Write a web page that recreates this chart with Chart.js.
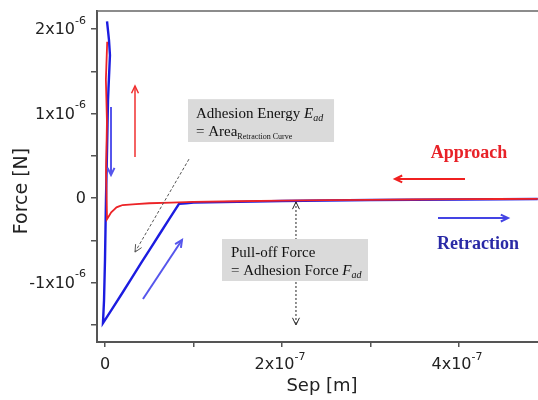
<!DOCTYPE html>
<html>
<head>
<meta charset="utf-8">
<script src="https://cdn.jsdelivr.net/npm/chart.js@4.4.0/dist/chart.umd.min.js"></script>
<style>
  html, body { margin: 0; padding: 0; background: #fff; overflow: hidden; }
  canvas { display: block; }
</style>
</head>
<body>
<canvas id="forceChart" width="538" height="400"></canvas>
<script>
// approach curve (red), drawn from far away to contact
const sepApproach = [4.89e-7, 4.0e-7, 3.0e-7, 2.0e-7, 1.0e-7, 5.0e-8, 2.0e-8, 1.3e-8, 7e-9, 2.3e-9, 1.2e-9, 2.2e-9, 1.0e-9, 2.0e-9, 2.5e-9];
const forceApproach = [-0.010e-6, -0.014e-6, -0.021e-6, -0.031e-6, -0.046e-6, -0.062e-6, -0.083e-6, -0.11e-6, -0.17e-6, -0.25e-6, 0.30e-6, 0.90e-6, 1.40e-6, 1.70e-6, 1.85e-6];

// retraction curve (blue), from max load down to pull-off and back to zero
const sepRetract = [2.3e-9, 4.5e-9, 5.6e-9, 4.5e-9, 3.4e-9, 2.3e-9, 1.1e-9, 0, -1.1e-9, -2.3e-9, 1.92e-8, 4.07e-8, 6.21e-8, 8.36e-8, 1.0e-7, 2.0e-7, 3.0e-7, 4.0e-7, 4.89e-7];
const forceRetract = [2.09e-6, 1.87e-6, 1.69e-6, 1.43e-6, 1.16e-6, 0.57e-6, -0.02e-6, -0.73e-6, -1.21e-6, -1.48e-6, -1.13e-6, -0.77e-6, -0.42e-6, -0.07e-6, -0.055e-6, -0.036e-6, -0.024e-6, -0.018e-6, -0.012e-6];

// axes
const xTickValues = [0, 1e-7, 2e-7, 3e-7, 4e-7];
const xLabelValues = [0, 2e-7, 4e-7];
const xTickLabels = [['0', ''], ['2x10', '-7'], ['4x10', '-7']];
const yTickValues = [-1.5e-6, -1e-6, -0.5e-6, 0, 0.5e-6, 1e-6, 1.5e-6, 2e-6];
const yLabelValues = [-1e-6, 0, 1e-6, 2e-6];
const yTickLabels = [['-1x10', '-6'], ['0', ''], ['1x10', '-6'], ['2x10', '-6']];

const RED = '#ec2327';
const BLUE = '#1c1ce0';
const AXIS = '#555';

// annotations, placed in data units
const arrows = [
  { from: [3.39e-8, 0.485e-6], to: [3.39e-8, 1.325e-6], color: '#f03030', width: 1.5, dash: [], heads: 'end' },
  { from: [6.8e-9, 1.077e-6], to: [6.8e-9, 0.272e-6], color: '#5656ec', width: 2, dash: [], heads: 'end' },
  { from: [9.49e-8, 0.46e-6], to: [3.39e-8, -0.64e-6], color: '#555', width: 1, dash: [3, 2], heads: 'end' },
  { from: [2.158e-7, -0.047e-6], to: [2.158e-7, -1.503e-6], color: '#222', width: 1, dash: [2, 2], heads: 'both' },
  { from: [4.068e-7, 0.225e-6], to: [3.277e-7, 0.225e-6], color: '#f02020', width: 2, dash: [], heads: 'end' },
  { from: [3.763e-7, -0.237e-6], to: [4.554e-7, -0.237e-6], color: '#4444e4', width: 2, dash: [], heads: 'end' },
  { from: [4.29e-8, -1.195e-6], to: [8.7e-8, -0.497e-6], color: '#5656ec', width: 2, dash: [], heads: 'end' }
];
const boxes = [
  { x1: 9.38e-8, y1: 1.17e-6, x2: 2.588e-7, y2: 0.663e-6 },
  { x1: 1.322e-7, y1: -0.485e-6, x2: 2.972e-7, y2: -0.982e-6 }
];

function arrowHead(ctx, x, y, angle, size) {
  ctx.beginPath();
  ctx.moveTo(x - size * Math.cos(angle - 0.45), y - size * Math.sin(angle - 0.45));
  ctx.lineTo(x, y);
  ctx.lineTo(x - size * Math.cos(angle + 0.45), y - size * Math.sin(angle + 0.45));
  ctx.stroke();
}

// draw a line of text made of runs: [text, font, dy]
function drawRuns(ctx, x, y, runs, color) {
  ctx.fillStyle = color;
  ctx.textAlign = 'left';
  ctx.textBaseline = 'alphabetic';
  runs.forEach(([text, font, dy]) => {
    ctx.font = font;
    ctx.fillText(text, x, y + (dy || 0));
    x += ctx.measureText(text).width;
  });
}

const decorations = {
  id: 'decorations',
  afterDraw(chart) {
    const ctx = chart.ctx;
    const xs = chart.scales.x, ys = chart.scales.y;
    const area = chart.chartArea;
    const P = (x, y) => [xs.getPixelForValue(x), ys.getPixelForValue(y)];
    ctx.save();

    // top frame line
    ctx.strokeStyle = '#666';
    ctx.lineWidth = 1.5;
    ctx.beginPath();
    ctx.moveTo(area.left, area.top);
    ctx.lineTo(area.right, area.top);
    ctx.stroke();

    // tick labels with superscript exponents
    ctx.fillStyle = '#222';
    ctx.textBaseline = 'middle';
    yLabelValues.forEach((v, i) => {
      const [main, exp] = yTickLabels[i];
      const ty = ys.getPixelForValue(v);
      const right = area.left - 11;
      ctx.font = '11px "DejaVu Sans"';
      const ew = exp ? ctx.measureText(exp).width : 0;
      ctx.textAlign = 'left';
      if (exp) ctx.fillText(exp, right - ew, ty - 8);
      ctx.font = '16px "DejaVu Sans"';
      ctx.textAlign = 'right';
      ctx.fillText(main, right - ew, ty + 1);
    });
    xLabelValues.forEach((v, i) => {
      const [main, exp] = xTickLabels[i];
      const tx = xs.getPixelForValue(v);
      const ty = area.bottom + 23;
      ctx.font = '16px "DejaVu Sans"';
      const mw = ctx.measureText(main).width;
      ctx.font = '11px "DejaVu Sans"';
      const ew = exp ? ctx.measureText(exp).width : 0;
      const start = tx - (mw + ew) / 2 - (exp ? 2 : 0);
      ctx.textAlign = 'left';
      ctx.font = '16px "DejaVu Sans"';
      ctx.fillText(main, start, ty);
      if (exp) {
        ctx.font = '11px "DejaVu Sans"';
        ctx.fillText(exp, start + mw, ty - 8);
      }
    });

    // axis titles
    ctx.fillStyle = '#222';
    ctx.textAlign = 'center';
    ctx.font = '19px "DejaVu Sans"';
    ctx.save();
    ctx.translate(22, 191);
    ctx.rotate(-Math.PI / 2);
    ctx.fillText('Force [N]', 0, 0);
    ctx.restore();
    ctx.font = '18px "DejaVu Sans"';
    ctx.fillText('Sep [m]', 322, 386);

    // arrows
    arrows.forEach(a => {
      const [x1, y1] = P(a.from[0], a.from[1]);
      const [x2, y2] = P(a.to[0], a.to[1]);
      ctx.strokeStyle = a.color;
      ctx.lineWidth = a.width;
      ctx.setLineDash(a.dash);
      ctx.beginPath();
      ctx.moveTo(x1, y1);
      ctx.lineTo(x2, y2);
      ctx.stroke();
      ctx.setLineDash([]);
      const ang = Math.atan2(y2 - y1, x2 - x1);
      arrowHead(ctx, x2, y2, ang, 8);
      if (a.heads === 'both') arrowHead(ctx, x1, y1, ang + Math.PI, 8);
    });

    // grey note boxes
    ctx.fillStyle = '#dadada';
    boxes.forEach(b => {
      const [x1, y1] = P(b.x1, b.y1);
      const [x2, y2] = P(b.x2, b.y2);
      ctx.fillRect(x1, y1, x2 - x1, y2 - y1);
    });

    const serif = '"Liberation Serif", "DejaVu Serif", serif';
    let [bx, by] = P(boxes[0].x1, boxes[0].y1);
    drawRuns(ctx, bx + 8, by + 19, [
      ['Adhesion Energy ', '15px ' + serif],
      ['E', 'italic 15px ' + serif],
      ['ad', 'italic 10px ' + serif, 3]
    ], '#111');
    drawRuns(ctx, bx + 8, by + 37, [
      ['= Area', '15px ' + serif],
      ['Retraction Curve', '8px ' + serif, 3]
    ], '#111');

    [bx, by] = P(boxes[1].x1, boxes[1].y1);
    drawRuns(ctx, bx + 9, by + 18, [
      ['Pull-off Force', '15px ' + serif]
    ], '#111');
    drawRuns(ctx, bx + 9, by + 36, [
      ['= Adhesion Force ', '15px ' + serif],
      ['F', 'italic 15px ' + serif],
      ['ad', 'italic 10px ' + serif, 3]
    ], '#111');

    // curve labels
    ctx.textAlign = 'center';
    ctx.textBaseline = 'middle';
    ctx.font = 'bold 18px ' + serif;
    ctx.fillStyle = '#e82228';
    let [lx, ly] = P(4.113e-7, 0.533e-6);
    ctx.fillText('Approach', lx, ly);
    ctx.fillStyle = '#2a2aa6';
    [lx, ly] = P(4.215e-7, -0.544e-6);
    ctx.fillText('Retraction', lx, ly);

    ctx.restore();
  }
};

new Chart(document.getElementById('forceChart'), {
  type: 'line',
  data: {
    datasets: [
      {
        label: 'Approach',
        data: sepApproach.map((s, i) => ({ x: s, y: forceApproach[i] })),
        borderColor: RED,
        borderWidth: 1.8,
        pointRadius: 0,
        tension: 0.001
      },
      {
        label: 'Retraction',
        data: sepRetract.map((s, i) => ({ x: s, y: forceRetract[i] })),
        borderColor: BLUE,
        borderWidth: 2.4,
        pointRadius: 0,
        tension: 0.001
      }
    ]
  },
  options: {
    responsive: false,
    animation: false,
    devicePixelRatio: 1,
    layout: { padding: { top: 11, right: 0, left: 0, bottom: 0 } },
    plugins: { legend: { display: false }, tooltip: { enabled: false } },
    scales: {
      x: {
        type: 'linear',
        min: -9.04e-9,
        max: 4.893e-7,
        afterBuildTicks: s => { s.ticks = xTickValues.map(v => ({ value: v })); },
        afterFit: s => { s.height = 58; },
        ticks: { display: false },
        grid: { drawOnChartArea: false, drawTicks: true, tickLength: 5, color: AXIS, lineWidth: 1.5 },
        border: { color: AXIS, width: 2 }
      },
      y: {
        type: 'linear',
        min: -1.704e-6,
        max: 2.213e-6,
        afterBuildTicks: s => { s.ticks = yTickValues.map(v => ({ value: v })); },
        afterFit: s => { s.width = 97; },
        ticks: { display: false },
        grid: { drawOnChartArea: false, drawTicks: true, tickLength: 6, color: AXIS, lineWidth: 1.5 },
        border: { color: AXIS, width: 2 }
      }
    }
  },
  plugins: [decorations]
});
</script>
</body>
</html>
